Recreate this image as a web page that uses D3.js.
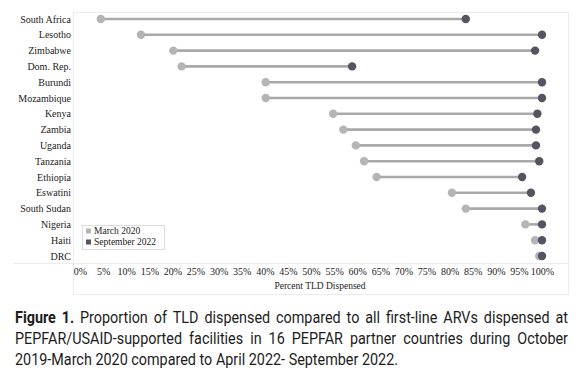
<!DOCTYPE html>
<html><head><meta charset="utf-8">
<script src="https://cdn.jsdelivr.net/npm/d3@7"></script>
<style>body{margin:0;background:#fff;}svg{display:block;}</style>
</head><body>
<svg id="c" width="579" height="379"></svg>
<script>
const countries = ["South Africa","Lesotho","Zimbabwe","Dom. Rep.","Burundi","Mozambique","Kenya","Zambia","Uganda","Tanzania","Ethiopia","Eswatini","South Sudan","Nigeria","Haiti","DRC"];
const march2020 = [4.5,13.2,20.2,22.0,40.2,40.2,54.8,57.0,59.7,61.5,64.2,80.5,83.5,96.4,98.5,99.4];
const sept2022 = [83.5,100,98.5,58.9,100,100,99.0,98.7,98.7,99.4,95.7,97.6,100,100,100,100];
const tickValues = d3.range(0,101,5);
const seriesNames = ["March 2020","September 2022"];
const captionLines = [
  [{t:"Figure 1.",b:true},{t:" Proportion of TLD dispensed compared to all first-line ARVs dispensed at"}],
  [{t:"PEPFAR/USAID-supported facilities in 16 PEPFAR partner countries during October"}],
  [{t:"2019-March 2020 compared to April 2022- September 2022."}]
];

const svg = d3.select("#c");
const serif = "'Liberation Serif','Times New Roman',serif";
const colLight = "#b5b5b7", colDark = "#545560", colLine = "#a9a9a9", frame = "#ececec";

const x = d3.scaleLinear().domain([0,100]).range([80,542]);
const y = d3.scalePoint().domain(countries).range([19,256]);

// frame
svg.append("rect").attr("x",73.5).attr("y",12.5).attr("width",495).attr("height",282).attr("fill","none").attr("stroke",frame);
svg.append("line").attr("x1",13).attr("x2",568).attr("y1",263.5).attr("y2",263.5).attr("stroke",frame);

// y labels
svg.append("g").selectAll("text").data(countries).join("text")
  .attr("x",71).attr("y",d=>y(d)).attr("dy","0.35em").attr("text-anchor","end")
  .attr("font-family",serif).attr("font-size",10).attr("fill","#222").text(d=>d);

// x axis
const xa = svg.append("g").attr("transform","translate(0,264)")
  .call(d3.axisBottom(x).tickValues(tickValues).tickSize(0).tickPadding(4).tickFormat(d=>d+"%"));
xa.select(".domain").remove();
xa.selectAll("text").attr("font-family",serif).attr("font-size",10).attr("fill","#222");
svg.append("text").attr("x",320).attr("y",289).attr("text-anchor","middle")
  .attr("font-family",serif).attr("font-size",9.5).attr("fill","#222").text("Percent TLD Dispensed");

// dumbbells
const g = svg.append("g");
countries.forEach((c,i)=>{
  g.append("line").attr("x1",x(march2020[i])).attr("x2",x(sept2022[i]))
   .attr("y1",y(c)).attr("y2",y(c)).attr("stroke",colLine).attr("stroke-width",2.6);
});
g.selectAll("circle.m").data(countries).join("circle").attr("class","m")
  .attr("cx",(d,i)=>x(march2020[i])).attr("cy",d=>y(d)).attr("r",4.2).attr("fill",colLight);
g.selectAll("circle.s").data(countries).join("circle").attr("class","s")
  .attr("cx",(d,i)=>x(sept2022[i])).attr("cy",d=>y(d)).attr("r",4.2).attr("fill",colDark);

// legend
const lg = svg.append("g");
lg.append("rect").attr("x",82.5).attr("y",225.5).attr("width",82).attr("height",24).attr("fill","#fff").attr("stroke","#dcdcdc");
seriesNames.forEach((s,i)=>{
  lg.append("rect").attr("x",86).attr("y",228.5+i*11).attr("width",5).attr("height",5).attr("fill",i?colDark:colLight);
  lg.append("text").attr("x",94).attr("y",231+i*11).attr("dy","0.35em").attr("font-family",serif)
    .attr("font-size",9.5).attr("fill","#222").text(s);
});

// caption (condensed look: Roboto scaled horizontally)
const capG = svg.append("g").attr("font-family","Roboto, 'Noto Sans', sans-serif").attr("font-size",17).attr("fill","#1c1c1c");
const left = 15, right = 568, base = [323,344,365];
let sx;
{
  const t = capG.append("text").text(captionLines[2][0].t);
  sx = 383 / t.node().getComputedTextLength(); t.remove();
}
let space;
{
  const a = capG.append("text").text("a a"), b = capG.append("text").text("aa");
  space = (a.node().getComputedTextLength() - b.node().getComputedTextLength())*sx; a.remove(); b.remove();
}
captionLines.forEach((line,li)=>{
  const words = [];
  line.forEach(seg=>seg.t.split(" ").filter(s=>s.length).forEach(w=>words.push({w,b:!!seg.b})));
  const nodes = words.map(o=>capG.append("text").attr("font-weight",o.b?"bold":"normal").text(o.w));
  const widths = nodes.map(n=>n.node().getComputedTextLength()*sx);
  const total = d3.sum(widths);
  const justify = li < captionLines.length-1;
  const gap = justify ? (right-left-total)/(words.length-1) : space;
  let cx = left;
  nodes.forEach((n,k)=>{ n.attr("transform",`translate(${cx},${base[li]}) scale(${sx},1)`); cx += widths[k]+gap; });
});
</script>
</body></html>
